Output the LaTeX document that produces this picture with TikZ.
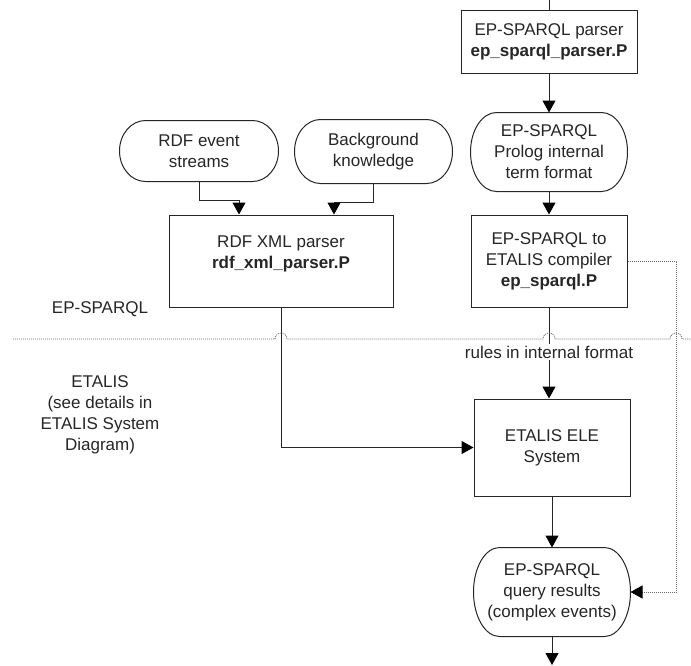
\documentclass[tikz,border=0pt]{standalone}
\usepackage{fontspec}
\setmainfont{Liberation Sans}
\usetikzlibrary{arrows.meta,calc}

\begin{document}
\begin{tikzpicture}[x=1pt, y=-1pt, line width=1pt, draw=black!85,
  every node/.style={font=\fontsize{17}{21}\selectfont, text=black!85, align=center, inner sep=0pt},
  box/.style={draw, minimum width=156pt, minimum height=92pt},
  term/.style={minimum width=156pt},
  arr/.style={-{Triangle[width=13pt,length=12pt,color=black]}},
  sep/.style={black!60, line width=0.8pt, dash pattern=on 1pt off 1pt}]
			 \path[use as bounding box, fill=white] (0,0) rectangle (691,665);
			 \coordinate (in) at (549,0);
			 \coordinate (out) at (552,665);
			 \node[box,minimum width=176pt,minimum height=63pt] (parser) at (549,41.5) {EP-SPARQL parser\\\textbf{ep\_sparql\_parser.P}};
			 \node[term,minimum height=78pt] (prolog) at (549,152) {EP-SPARQL\\Prolog internal\\term format};
			 \node[term,minimum width=158pt,minimum height=60pt] (streams) at (199,151) {RDF event\\streams};
			 \node[term,minimum width=157pt,minimum height=63pt] (backgr) at (373.5,151.5) {Background\\knowledge};
			 \node[box,minimum width=224pt,label={[yshift=7pt]center:{RDF XML parser\\\textbf{rdf\_xml\_parser.P}}}] (rdfxml) at (281,261) {};
			 \node[box] (compiler) at (549,261) {EP-SPARQL to\\ETALIS compiler\\\textbf{ep\_sparql.P}};
			 \node[box,minimum height=97pt] (ele) at (552,447.5) {ETALIS ELE\\System};
			 \node[term,minimum height=88pt] (results) at (552,592) {EP-SPARQL\\query results\\(complex events)};
			 \node (epsparql) at (100,309) {EP-SPARQL};
			 \node (etalis) at (100,414.5) {ETALIS\\(see details in\\ETALIS System\\Diagram)};
			 % terminal outlines
			 \foreach \t in {streams,backgr,prolog,results}
			   \draw let \p1=(\t.north), \p2=(\t.south), \n1={(\y1-\y2)/2} in
			     ([xshift=26pt]\t.north west) -- ([xshift=-26pt]\t.north east)
			     arc[start angle=90,end angle=-90,x radius=26pt,y radius=\n1]
			     -- ([xshift=26pt]\t.south west)
			     arc[start angle=270,end angle=90,x radius=26pt,y radius=\n1] -- cycle;
			 \draw (in) -- (parser.north);
			 \draw[arr] (parser) -- (prolog);
			 \draw[arr] (prolog) -- (compiler);
			 \draw[arr] (streams.south) -- ++(0,19) -| ([xshift=-42pt]rdfxml.north);
			 \draw[arr] (backgr.south) -- ++(0,19) -| ([xshift=53pt]rdfxml.north);
			 \draw[arr] (rdfxml) |- (ele);
			 \draw[arr] (compiler.south) -- (compiler.south |- ele.north);
			 \node[fill=white,inner ysep=2pt] (rules) at (549,352) {rules in internal format};
			 \draw[arr] (ele) -- (results);
			 \draw[arr] (results) -- (out);
			 \draw[arr,sep] (compiler.east) -- ++(49,0) |- (results.east);
			 % swimlane border
			 \draw[sep] (13,339) -- (275,339) arc[start angle=180,end angle=0,radius=6pt]
			   -- (543,339) arc[start angle=180,end angle=0,radius=6pt]
			   -- (670,339) arc[start angle=180,end angle=0,radius=6pt] -- (691,339);
		\end{tikzpicture}
\end{document}
